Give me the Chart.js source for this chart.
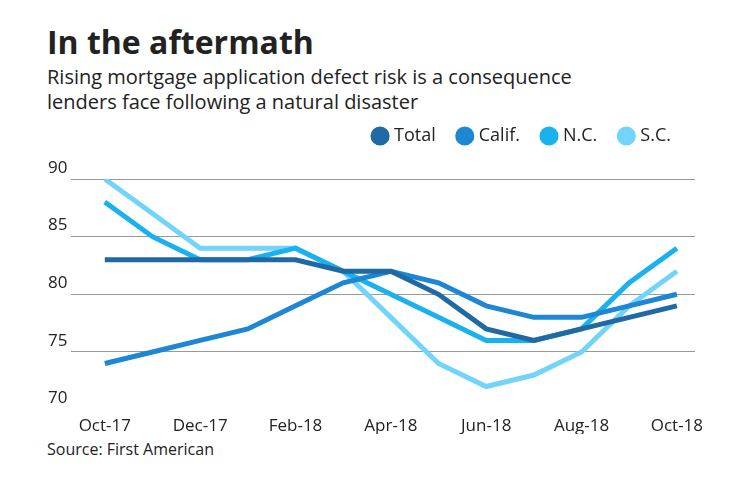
<!DOCTYPE html>
<html><head><meta charset="utf-8">
<script src="https://cdn.jsdelivr.net/npm/chart.js@4/dist/chart.umd.min.js"></script>
<style>
body{margin:0;background:#fff;font-family:"Open Sans",Lato,sans-serif;color:#222;}
#t{position:absolute;left:47px;top:20px;font-size:32px;font-weight:700;}
#s{position:absolute;left:47px;top:64px;font-size:20px;line-height:25px;}
#src{position:absolute;left:47px;top:438px;font-size:16px;}
#w{position:absolute;left:0;top:103px;width:740px;height:331px;}
</style></head><body>
<div id="t">In the aftermath</div>
<div id="s">Rising mortgage application defect risk is a consequence<br>lenders face following a natural disaster</div>
<div id="w"><canvas id="c"></canvas></div>
<div id="src">Source: First American</div>
<script>
const labels=["Oct-17","Nov-17","Dec-17","Jan-18","Feb-18","Mar-18","Apr-18","May-18","Jun-18","Jul-18","Aug-18","Sep-18","Oct-18"];
const total=[83,83,83,83,83,82,82,80,77,76,77,78,79];
const calif=[74,75,76,77,79,81,82,81,79,78,78,79,80];
const nc=[88,85,83,83,84,82,80,78,76,76,77,81,84];
const sc=[90,87,84,84,84,82,78,74,72,73,75,79,82];
const names=["Total","Calif.","N.C.","S.C."];
const colors=["#1f6aa5","#1d87d6","#19b2ee","#72d4fb"];
const series=[total,calif,nc,sc];
const legendPad={id:'lp',beforeInit(ch){const f=ch.legend.fit;ch.legend.fit=function(){f.bind(ch.legend)();this.height+=24;};}};
new Chart(document.getElementById('c'),{type:'line',plugins:[legendPad],
data:{datasets:series.map((d,i)=>({label:names[i],data:d.map((v,j)=>({x:j,y:v})),borderColor:colors[i],backgroundColor:colors[i],borderWidth:5,pointRadius:0,tension:0}))},
options:{responsive:true,maintainAspectRatio:false,animation:false,
layout:{padding:{left:44,right:45,top:0,bottom:0}},
plugins:{tooltip:{enabled:false},legend:{align:'end',labels:{usePointStyle:true,pointStyle:'circle',boxWidth:10,boxHeight:10,padding:24,color:'#222',font:{size:18,family:'Open Sans'}}}},
scales:{x:{type:'linear',min:-0.7,max:12.38,grid:{display:false},border:{display:false},afterBuildTicks:s=>{s.ticks=labels.map((l,i)=>({value:i}));},ticks:{padding:-2,color:'#222',font:{size:17,family:'Open Sans'},autoSkip:false,maxRotation:0,callback:(v)=>v%2?'':labels[v]}},
y:{min:70,max:90,border:{display:false},grid:{color:c=>c.tick.value===70?'transparent':'#999',drawTicks:false},ticks:{stepSize:5,padding:4,labelOffset:-11,color:'#222',font:{size:17,family:'Open Sans'}}}}}});
</script></body></html>
